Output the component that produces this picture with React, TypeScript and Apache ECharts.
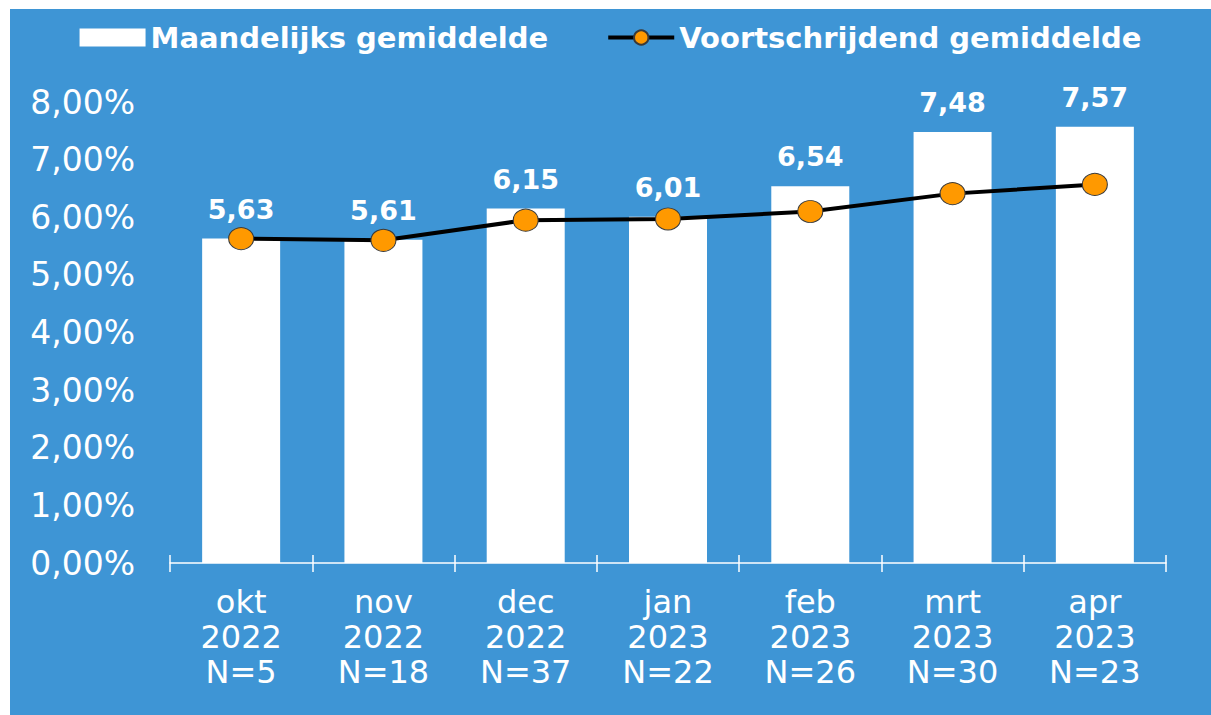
import React, { useEffect, useRef } from "react";
import * as echarts from "echarts";

const categories = ["okt\n2022\nN=5", "nov\n2022\nN=18", "dec\n2022\nN=37", "jan\n2023\nN=22", "feb\n2023\nN=26", "mrt\n2023\nN=30", "apr\n2023\nN=23"];
const monthlyAvg = [5.63, 5.61, 6.15, 6.01, 6.54, 7.48, 7.57];
const runningAvg = [5.63, 5.6, 5.95, 5.97, 6.1, 6.41, 6.57];
const seriesNames = ["Maandelijks gemiddelde", "Voortschrijdend gemiddelde"];

const BLUE = "#3E95D5";
const fmtComma = (v: number, d: number) => v.toFixed(d).replace(".", ",");

export default function App() {
  const ref = useRef<HTMLDivElement>(null);
  useEffect(() => {
    if (!ref.current) return;
    const chart = echarts.init(ref.current, null, { renderer: "svg" });
    chart.setOption({
      animation: false,
      backgroundColor: BLUE,
      legend: {
        top: 9,
        left: "center",
        itemWidth: 66,
        itemHeight: 18,
        itemGap: 58,
        textStyle: { color: "#fff", fontFamily: "DejaVu Sans", fontWeight: "bold", fontSize: 29 },
        data: [
          { name: seriesNames[0], icon: "rect" },
          { name: seriesNames[1], lineStyle: { width: 4, color: "#000" } },
        ],
      },
      grid: { left: 160, right: 45, top: 93, bottom: 152 },
      xAxis: [
        {
          type: "category",
          data: categories,
          position: "bottom",
          axisLine: { show: true, lineStyle: { color: "#fff", width: 1.5 } },
          axisTick: { show: true, length: 9, lineStyle: { color: "#fff", width: 1.5 } },
          axisLabel: {
            color: "#fff",
            fontFamily: "DejaVu Sans",
            fontSize: 32,
            lineHeight: 35,
            margin: 21,
            interval: 0,
          },
        },
        {
          type: "category",
          data: categories,
          position: "bottom",
          axisLine: { show: false },
          axisTick: { show: true, inside: true, length: 8, lineStyle: { color: "#fff", width: 1.5 } },
          axisLabel: { show: false },
        },
      ],
      yAxis: {
        type: "value",
        min: 0,
        max: 8,
        interval: 1,
        axisLine: { show: false },
        axisTick: { show: false },
        splitLine: { show: false },
        axisLabel: {
          color: "#fff",
          fontFamily: "DejaVu Sans",
          fontSize: 33,
          margin: 35,
          formatter: (v: number) => fmtComma(v, 2) + "%",
        },
      },
      series: [
        {
          name: seriesNames[0],
          type: "bar",
          data: monthlyAvg,
          barWidth: 78,
          itemStyle: { color: "#fff" },
          label: {
            show: true,
            position: "top",
            distance: 16,
            color: "#fff",
            fontFamily: "DejaVu Sans",
            fontWeight: "bold",
            fontSize: 27,
            formatter: (p: any) => fmtComma(p.value, 2),
          },
          z: 2,
        },
        {
          name: seriesNames[1],
          type: "line",
          data: runningAvg,
          symbol: "circle",
          symbolSize: [25, 22],
          lineStyle: { color: "#000", width: 4 },
          itemStyle: { color: "#FF9900", borderColor: "#3a3a3a", borderWidth: 1 },
          z: 3,
        },
      ],
    });
    return () => chart.dispose();
  }, []);

  return (
    <div style={{ position: "fixed", left: 0, top: 0, width: "100vw", height: "100vh", background: BLUE, overflow: "hidden" }}>
      <div style={{ position: "absolute", left: 0, top: 0, width: "100%", height: 9, background: "#fff" }} />
      <div style={{ position: "absolute", left: 0, top: 0, width: 10, height: "100%", background: "#fff" }} />
      <div ref={ref} style={{ position: "absolute", left: 10, top: 9, width: 1201, height: 706 }} />
    </div>
  );
}
